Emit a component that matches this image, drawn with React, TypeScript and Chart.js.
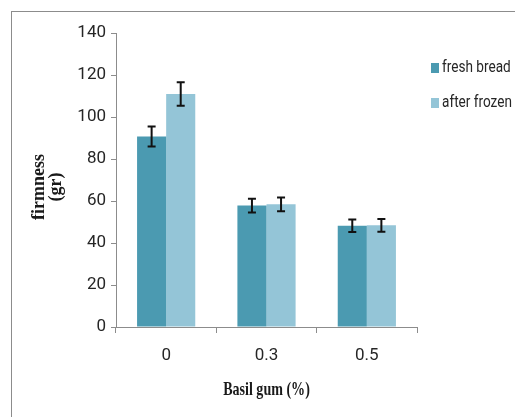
import React, { useEffect, useRef } from "react";
import { Chart, registerables } from "chart.js";

Chart.register(...registerables);

const categories = ["0", "0.3", "0.5"];
const seriesNames = ["fresh bread", "after frozen"];
const freshValues = [90.7, 57.8, 48.2];
const frozenValues = [110.9, 58.4, 48.4];
const freshErrors = [4.8, 3.3, 3.0];
const frozenErrors = [5.6, 3.3, 3.0];
const yTickMin = 0;
const yTickMax = 140;
const yTickStep = 20;
const xTitle = "Basil gum (%)";
const yTitle = ["firmness", "(gr)"];

const colors = ["#4b9ab1", "#94c5d7"];
const axisColor = "#8c8c8c";
const sans = "Roboto, 'Liberation Sans', sans-serif";
const serif = "'Liberation Serif', 'Times New Roman', serif";

const errorBarPlugin = {
  id: "errorBars",
  afterDatasetsDraw(chart: any) {
    const ctx = chart.ctx;
    const yScale = chart.scales.y;
    const errs = [freshErrors, frozenErrors];
    ctx.save();
    ctx.strokeStyle = "#111";
    ctx.lineWidth = 2;
    chart.data.datasets.forEach((ds: any, i: number) => {
      const meta = chart.getDatasetMeta(i);
      meta.data.forEach((bar: any, j: number) => {
        const v = ds.data[j];
        const e = errs[i][j];
        const x = bar.x;
        const yt = yScale.getPixelForValue(v + e);
        const yb = yScale.getPixelForValue(v - e);
        ctx.beginPath();
        ctx.moveTo(x, yt);
        ctx.lineTo(x, yb);
        ctx.moveTo(x - 4, yt);
        ctx.lineTo(x + 4, yt);
        ctx.moveTo(x - 4, yb);
        ctx.lineTo(x + 4, yb);
        ctx.stroke();
      });
    });
    ctx.restore();
  },
};

const textPlugin = {
  id: "customText",
  afterDraw(chart: any) {
    const ctx = chart.ctx;
    const area = chart.chartArea;
    ctx.save();
    // legend
    ctx.textBaseline = "middle";
    ctx.textAlign = "left";
    const ys = [68, 103];
    seriesNames.forEach((name, i) => {
      ctx.fillStyle = colors[i];
      ctx.fillRect(431, ys[i] - 5, 8, 10);
      ctx.save();
      ctx.translate(442, ys[i]);
      ctx.scale(0.8, 1);
      ctx.font = `17px ${sans}`;
      ctx.fillStyle = "#262626";
      ctx.fillText(name, 0, 0);
      ctx.restore();
    });
    // x axis title
    ctx.save();
    ctx.translate((area.left + area.right) / 2, 395);
    ctx.scale(0.74, 1);
    ctx.font = `bold 19px ${serif}`;
    ctx.fillStyle = "#1a1a1a";
    ctx.textAlign = "center";
    ctx.textBaseline = "alphabetic";
    ctx.fillText(xTitle, 0, 0);
    ctx.restore();
    // y axis title
    const baseX = [44, 61];
    yTitle.forEach((line, i) => {
      ctx.save();
      ctx.translate(baseX[i], 187);
      ctx.rotate(-Math.PI / 2);
      ctx.font = `bold 18px ${serif}`;
      ctx.fillStyle = "#1a1a1a";
      ctx.textAlign = "center";
      ctx.textBaseline = "alphabetic";
      ctx.fillText(line, 0, 0);
      ctx.restore();
    });
    ctx.restore();
  },
};

export default function App() {
  const ref = useRef<HTMLCanvasElement | null>(null);
  useEffect(() => {
    if (!ref.current) return;
    const chart = new Chart(ref.current, {
      type: "bar",
      data: {
        labels: categories,
        datasets: [
          { label: seriesNames[0], data: freshValues, backgroundColor: colors[0] },
          { label: seriesNames[1], data: frozenValues, backgroundColor: colors[1] },
        ],
      },
      options: {
        animation: false,
        responsive: false,
        maintainAspectRatio: false,
        events: [],
        layout: { padding: { left: 0, right: 98, top: 33, bottom: 0 } },
        datasets: { bar: { categoryPercentage: 0.58, barPercentage: 1 } },
        plugins: { legend: { display: false }, tooltip: { enabled: false } },
        scales: {
          x: {
            afterFit: (s: any) => { s.height = 417 - 327; },
            grid: { display: true, drawOnChartArea: false, drawTicks: true, tickLength: 6, color: axisColor, offset: true },
            border: { display: true, color: axisColor, width: 1 },
            ticks: { color: "#262626", padding: 13, font: { family: sans, size: 17 } },
          },
          y: {
            min: yTickMin,
            max: yTickMax,
            afterFit: (s: any) => { s.width = 116; },
            grid: { display: true, drawOnChartArea: false, drawTicks: true, tickLength: 5, color: axisColor },
            border: { display: true, color: axisColor, width: 1 },
            ticks: { stepSize: yTickStep, color: "#262626", padding: 5, font: { family: sans, size: 17 } },
          },
        },
      },
      plugins: [errorBarPlugin, textPlugin],
    } as any);
    return () => chart.destroy();
  }, []);
  return (
    <div style={{ position: "fixed", left: 0, top: 0, width: 515, height: 417, overflow: "hidden", background: "#fff" }}>
      <div style={{ position: "absolute", left: 11, top: 11, width: 600, height: 600, border: `1px solid ${axisColor}` }} />
      <canvas ref={ref} width={515} height={417} style={{ position: "absolute", left: 0, top: 0, width: 515, height: 417 }} />
    </div>
  );
}
